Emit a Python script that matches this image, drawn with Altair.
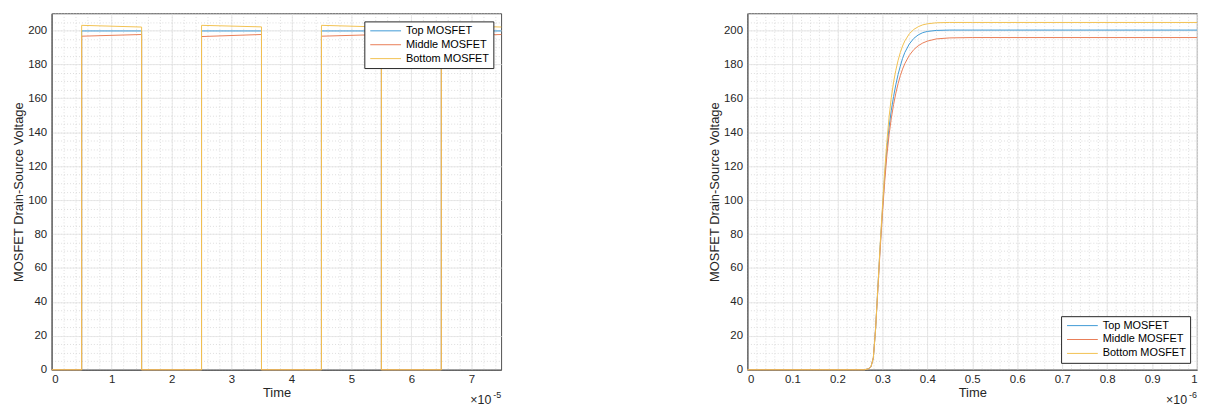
import altair as alt
import pandas as pd

SERIES = ["Top MOSFET", "Middle MOSFET", "Bottom MOSFET"]
COLORS = ["#3F9AD6", "#E97E58", "#F2C252"]

# ---- left panel: switching waveform (time in seconds) ----
left_time = [0, 0.5e-5, 0.5e-5, 1.5e-5, 1.5e-5, 2.5e-5, 2.5e-5, 3.5e-5,
             3.5e-5, 4.5e-5, 4.5e-5, 5.5e-5, 5.5e-5, 6.5e-5, 6.5e-5, 7.5e-5]
left_top = [0, 0, 199.7, 199.7, 0, 0, 199.7, 199.7,
            0, 0, 199.7, 199.7, 0, 0, 199.7, 199.7]
left_mid = [0, 0, 196.6, 197.6, 0, 0, 196.4, 197.6,
            0, 0, 196.6, 197.6, 0, 0, 196.6, 197.6]
left_bot = [0, 0, 203.0, 202.0, 0, 0, 203.0, 202.1,
            0, 0, 203.0, 202.0, 0, 0, 203.0, 202.0]

# ---- right panel: turn-off transient (time in seconds) ----
right_time = [0, 0.26e-6, 0.27e-6, 0.275e-6, 0.28e-6, 0.285e-6, 0.29e-6, 0.295e-6,
              0.30e-6, 0.305e-6, 0.31e-6, 0.315e-6, 0.32e-6, 0.325e-6, 0.33e-6,
              0.335e-6, 0.34e-6, 0.345e-6, 0.35e-6, 0.36e-6, 0.37e-6, 0.38e-6,
              0.39e-6, 0.40e-6, 0.42e-6, 0.45e-6, 0.5e-6, 1.0e-6]
right_top = [0, 0, 0.6, 2, 7, 24, 48, 72,
             93, 113, 130, 143, 153, 161, 168,
             174, 179, 183.5, 187, 192, 195.3, 197.4,
             198.7, 199.4, 200.0, 200.2, 200.2, 200.2]
right_mid = [0, 0, 0.6, 2, 7, 24, 47, 70,
             91, 110, 126, 138.5, 148.3, 156.3, 163,
             168.6, 173.3, 177.2, 180.4, 185.3, 188.7, 191,
             192.6, 193.7, 195.0, 195.6, 195.8, 195.8]
right_bot = [0, 0, 0.6, 2, 7, 24, 48, 73,
             95, 116, 134, 149, 160.5, 169.5, 176.5,
             182.3, 187, 190.8, 193.8, 198, 200.6, 202.2,
             203.3, 203.9, 204.5, 204.7, 204.7, 204.7]


def long_df(t, cols):
    rows = []
    for name, vals in zip(SERIES, cols):
        for i, (ti, vi) in enumerate(zip(t, vals)):
            rows.append({"time": ti, "v": vi, "series": name, "idx": i})
    return pd.DataFrame(rows)


left_df = long_df(left_time, [left_top, left_mid, left_bot])
right_df = long_df(right_time, [right_top, right_mid, right_bot])

W, H = 453, 359
FONT = "Liberation Sans"
TXT = "#262626"

y_major = [0, 20, 40, 60, 80, 100, 120, 140, 160, 180, 200]
y_minor = [5 * k for k in range(43)]


def panel(df, xmax, x_major, x_minor, mult, exp, legend_orient, legend_offset):
    color = alt.Color(
        "series:N",
        scale=alt.Scale(domain=SERIES, range=COLORS),
        sort=SERIES,
        legend=alt.Legend(
            title=None, orient=legend_orient, offset=legend_offset,
            symbolType="M-3.1,0H3.1", symbolSize=100, symbolStrokeWidth=1,
            symbolOffset=12, labelOffset=15,
            labelFont=FONT, labelFontSize=11, labelColor="#000000",
            fillColor="#ffffff", strokeColor="#262626", padding=4,
            rowPadding=2,
        ),
    )
    xs = alt.Scale(domain=[0, xmax], nice=False, zero=False)
    ys = alt.Scale(domain=[0, 210], nice=False)

    minor = alt.Chart(df).mark_line(opacity=0).encode(
        x=alt.X("time:Q", scale=xs, axis=alt.Axis(
            orient="bottom", values=x_minor, labels=False, ticks=False, domain=False,
            title=None, grid=True, gridColor="#cfcfcf", gridDash=[1, 2], gridWidth=0.7)),
        y=alt.Y("v:Q", scale=ys, axis=alt.Axis(
            orient="left", values=y_minor, labels=False, ticks=False, domain=False,
            title=None, grid=True, gridColor="#cfcfcf", gridDash=[1, 2], gridWidth=0.7)),
    )

    lines = alt.Chart(df).mark_line(strokeWidth=1).encode(
        x=alt.X("time:Q", scale=xs, title="Time", axis=alt.Axis(
            orient="bottom", values=x_major,
            labelExpr=f"format(datum.value*{mult}, '.1~f')",
            grid=True, gridColor="#e3e3e3", gridWidth=0.8, ticks=False,
            domainColor=TXT, domainWidth=0.8, labelPadding=4, titlePadding=1)),
        y=alt.Y("v:Q", scale=ys, title="MOSFET Drain-Source Voltage", axis=alt.Axis(
            orient="left", values=y_major,
            grid=True, gridColor="#e3e3e3", gridWidth=0.8, ticks=False,
            domainColor=TXT, domainWidth=0.8, labelPadding=5, titlePadding=2)),
        color=color,
        order=alt.Order("idx:Q"),
    )

    t1 = alt.Chart(pd.DataFrame({"s": ["\u00d710"]})).mark_text(
        align="right", baseline="middle", font=FONT, fontSize=12.5, color=TXT
    ).encode(x=alt.value(W - 10), y=alt.value(H + 30), text="s:N")
    t2 = alt.Chart(pd.DataFrame({"s": [exp]})).mark_text(
        align="right", baseline="middle", font=FONT, fontSize=9, color=TXT
    ).encode(x=alt.value(W), y=alt.value(H + 25), text="s:N")

    return alt.layer(minor, lines, t1, t2).resolve_axis(
        x="independent", y="independent"
    ).properties(width=W, height=H)


left = panel(left_df, 7.5e-5,
             [k * 1e-5 for k in range(8)],
             [k * 0.2e-5 for k in range(38)],
             1e5, "-5", "top-right", 8)
right = panel(right_df, 1e-6,
              [k * 0.1e-6 for k in range(11)],
              [k * 0.02e-6 for k in range(51)],
              1e6, "-6", "bottom-right", 7)

chart = alt.hconcat(left, right, spacing=205).resolve_scale(
    color="independent"
).resolve_legend(color="independent").configure(
    padding={"left": 4, "top": 3, "right": 5, "bottom": 0}
).configure_view(
    stroke=TXT, strokeWidth=0.8
).configure_axis(
    labelFont=FONT, labelFontSize=11.5, labelColor=TXT,
    titleFont=FONT, titleFontSize=13, titleFontWeight="normal", titleColor=TXT,
)

chart.save("out.html", embed_options={"renderer": "svg", "actions": False})
